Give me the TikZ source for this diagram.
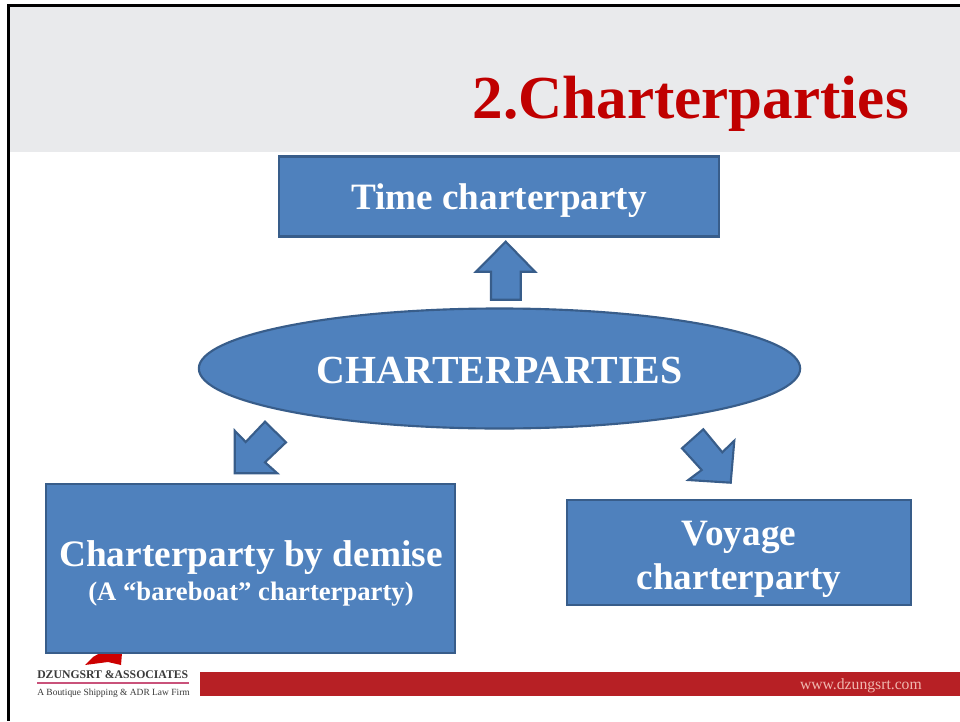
\documentclass[tikz,border=0pt]{standalone}
\usepackage{fontspec}
\usetikzlibrary{shapes.geometric}
\setmainfont{Liberation Serif}
\definecolor{blockfill}{HTML}{4F81BD}
\definecolor{blockline}{HTML}{385D8A}
\definecolor{headgrey}{HTML}{E9EAEC}
\definecolor{titlered}{HTML}{C00000}
\definecolor{bandred}{HTML}{B72025}
\definecolor{urltext}{HTML}{F0B8B0}
\definecolor{logotext}{HTML}{3A3A3A}
\definecolor{logoline}{HTML}{C9527A}
\tikzset{
  blockbox/.style={draw=blockline,fill=blockfill,line width=1.6pt,rectangle,inner sep=0pt},
  blockarrow/.style={draw=blockline,fill=blockfill,line width=1.6pt,line join=miter},
  blocktext/.style={anchor=base,inner sep=0pt,text=white},
}
\begin{document}
\begin{tikzpicture}[x=0.75pt,y=-0.75pt]
\useasboundingbox (0,0) rectangle (960,721);
\fill[white] (0,0) rectangle (960,721);
\fill[headgrey] (10,7) rectangle (960,152);
\fill[black] (7,4) rectangle (960,7);
\fill[black] (7,4) rectangle (10,721);
\node[anchor=base east,text=titlered,font=\bfseries\fontsize{45.8}{50}\selectfont,inner sep=0pt] (title) at (909,118) {2.Charterparties};
% logo and footer
\fill[red!80!black] (85,665) -- (93,657) -- (100,653) -- (122,653) -- (121,665) -- (108,662) -- cycle;
\node[anchor=base west,inner sep=0pt,text=logotext,font=\bfseries\fontsize{8.8}{10}\selectfont] (logoname) at (37,678) {DZUNGSRT \&ASSOCIATES};
\draw[logoline,line width=0.8pt] (37,683) -- (189,683);
\node[anchor=base west,inner sep=0pt,text=logotext,font=\fontsize{7.1}{8}\selectfont] (logotag) at (37,695) {A Boutique Shipping \& ADR Law Firm};
\fill[bandred] (200,672) rectangle (960,696);
\node[anchor=base east,inner sep=0pt,text=urltext,font=\fontsize{11.75}{14}\selectfont] (url) at (922,689) {www.dzungsrt.com};
% boxes
\node[blockbox,minimum width=330.5pt,minimum height=60pt] (time) at (499,196.5) {};
\node[blocktext,font=\bfseries\fontsize{27.9}{30}\selectfont] (timetext) at (499,209) {Time charterparty};
\node[blockbox,minimum width=306.5pt,minimum height=127pt] (demise) at (250.5,568.5) {};
\node[blocktext,font=\bfseries\fontsize{28}{30}\selectfont] (demisea) at (251,566) {Charterparty by demise};
\node[blocktext,font=\bfseries\fontsize{20}{22}\selectfont] (demiseb) at (251,600) {(A “bareboat” charterparty)};
\node[blockbox,minimum width=258pt,minimum height=79pt] (voyage) at (739,552.5) {};
\node[blocktext,font=\bfseries\fontsize{27.9}{30}\selectfont] (voyagea) at (739,545) {Voyage};
\node[blocktext,font=\bfseries\fontsize{27.9}{30}\selectfont] (voyageb) at (739,589) {charterparty};
\node[draw=blockline,fill=blockfill,line width=1.6pt,ellipse,minimum width=451pt,minimum height=90pt,inner sep=0pt] (centre) at (499.5,368.5) {};
\node[blocktext,font=\bfseries\fontsize{29.9}{32}\selectfont] (centretext) at (499.5,383) {CHARTERPARTIES};
% block arrows
\draw[blockarrow] (505.7,241.7) -- (535,271.7) -- (520.7,271.7) -- (520.7,299.7) -- (491,299.7) -- (491,271.7) -- (476,271.7) -- cycle;
\draw[blockarrow] (265,421.7) -- (286,442.3) -- (265,462.3) -- (277.3,473.3) -- (234.7,473.3) -- (234.7,430.7) -- (245.7,442) -- cycle;
\draw[blockarrow] (703.3,429.3) -- (722.3,452.3) -- (734.3,440.7) -- (730.7,482.7) -- (688.3,480) -- (701.7,470) -- (682,448.3) -- cycle;
\end{tikzpicture}
\end{document}
